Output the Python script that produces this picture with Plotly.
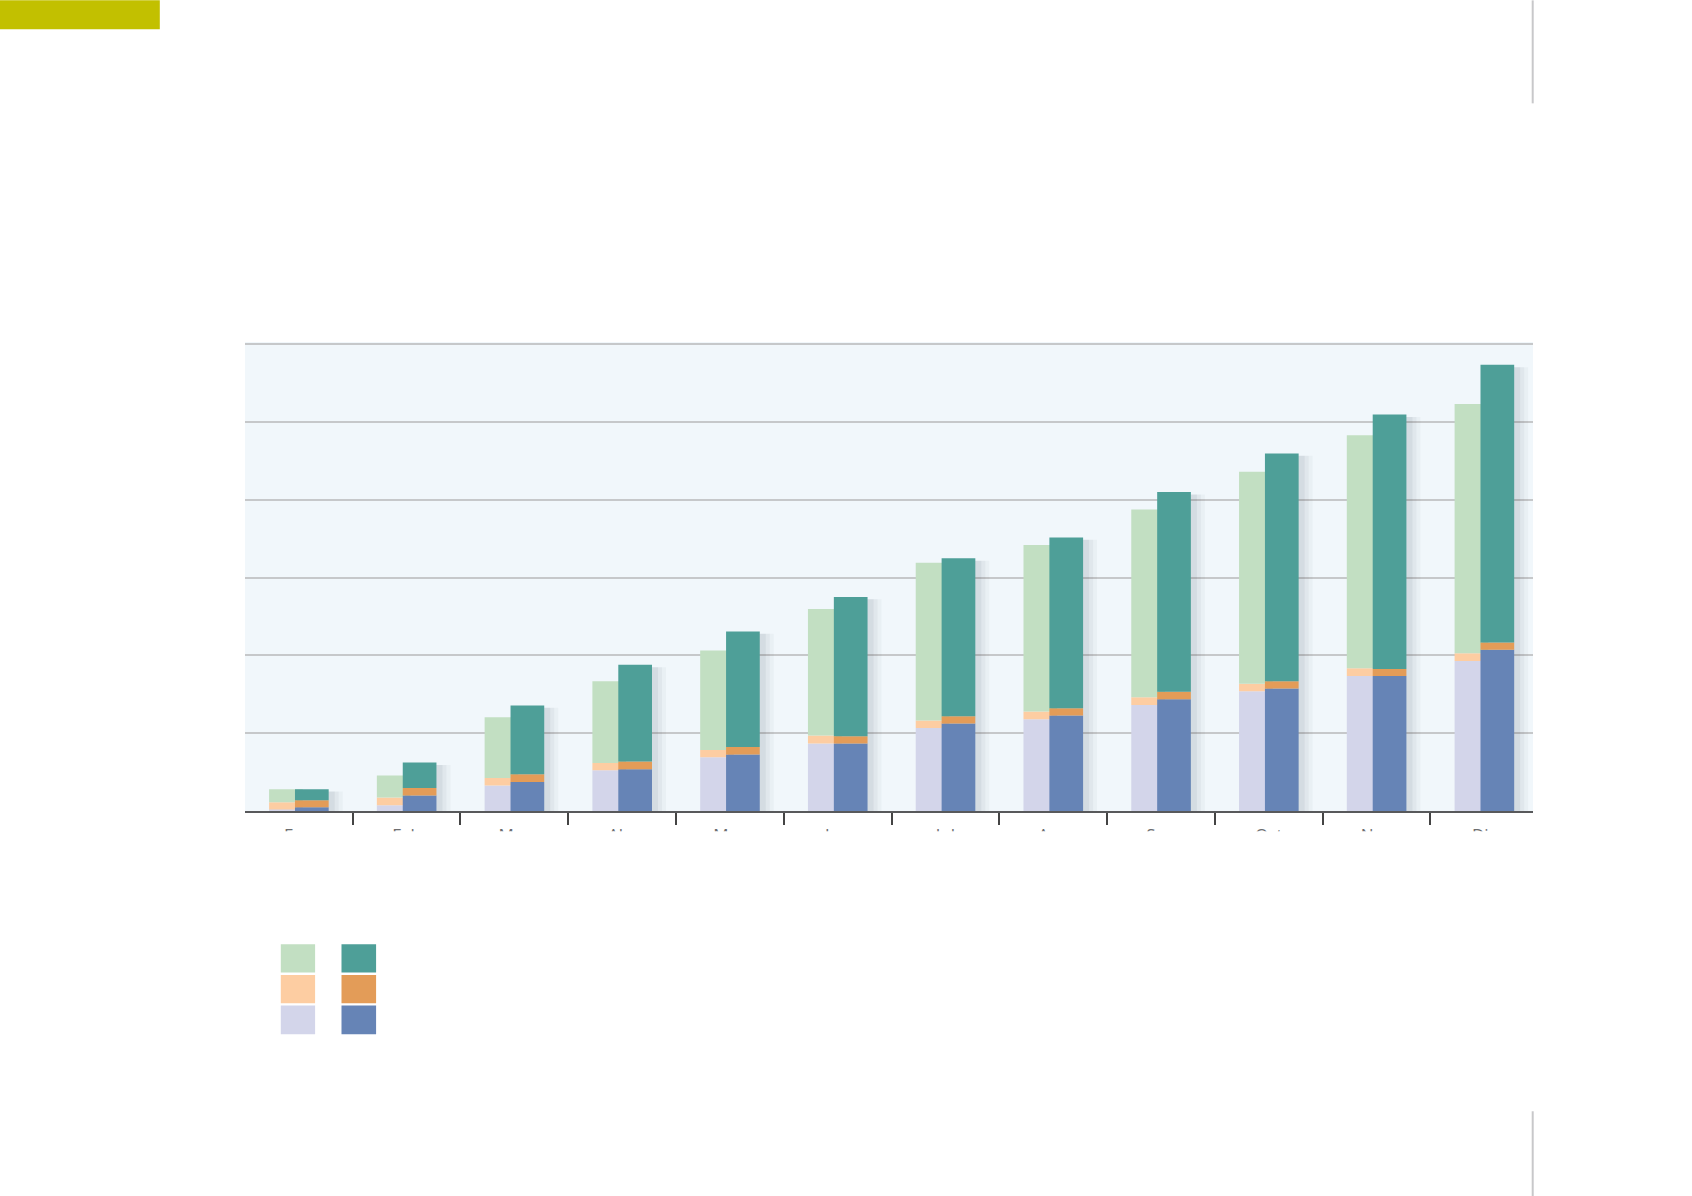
import numpy as np
import plotly.graph_objects as go

months = ["Ene", "Feb", "Mar", "Abr", "May", "Jun", "Jul", "Ago", "Sep", "Oct", "Nov", "Dic"]

# previous-year bar (light colours), stacked bottom -> top
prev_base = [0.18, 0.73, 3.27, 5.24, 6.91, 8.67, 10.68, 11.80, 13.64, 15.41, 17.37, 19.30]
prev_mid = [0.94, 0.99, 0.98, 0.94, 0.94, 1.03, 0.95, 0.99, 0.99, 0.94, 0.99, 0.99]
prev_top = [1.67, 2.83, 7.81, 10.51, 12.79, 16.28, 20.28, 21.40, 24.13, 27.28, 29.95, 32.05]

# current-year bar (dark colours), stacked bottom -> top
curr_base = [0.48, 1.98, 3.73, 5.37, 7.26, 8.67, 11.25, 12.28, 14.38, 15.75, 17.37, 20.72]
curr_mid = [0.90, 0.98, 0.99, 0.99, 0.98, 0.94, 0.94, 0.94, 0.94, 0.94, 0.90, 0.95]
curr_top = [1.42, 3.27, 8.84, 12.43, 14.85, 17.90, 20.30, 21.94, 25.68, 29.29, 32.70, 35.69]

light_colors = ["#d3d5ea", "#fdcda2", "#c2dfc2"]
dark_colors = ["#6684b6", "#e39c58", "#4e9f98"]

W, H = 1692, 1196
YMAX = 60.3
B = 810.7
unit_px = (810.7 - 344.0) / 60.0
L, R, T = 245.2, 1533.3, B - unit_px * YMAX
slot = 107.77
bw = 33.7 / slot
off_light = -29.7 / slot
off_dark = -3.8 / slot

fig = go.Figure()


def add_stack(parts, colors, offset):
    base = np.zeros(len(months))
    for vals, col in zip(parts, colors):
        v = np.array(vals)
        fig.add_trace(go.Bar(x=months, y=v, base=base.copy(), offset=offset, width=bw,
                             marker=dict(color=col, line=dict(width=0)),
                             showlegend=False, hoverinfo="skip"))
        base = base + v
    return base


add_stack([prev_base, prev_mid, prev_top], light_colors, off_light)

# soft shadow to the right of the dark bars
curr_total = np.array(curr_base) + np.array(curr_mid) + np.array(curr_top)
for extra, alpha in [(12, 0.035), (8, 0.045), (4, 0.06)]:
    fig.add_trace(go.Bar(x=months, y=curr_total - 0.3, base=0, offset=off_dark + 2 / slot,
                         width=bw + extra / slot,
                         marker=dict(color=f"rgba(40,50,60,{alpha})", line=dict(width=0)),
                         showlegend=False, hoverinfo="skip"))

add_stack([curr_base, curr_mid, curr_top], dark_colors, off_dark)


def px_x(p):
    return (p - L) / (R - L)


def px_y(p):
    return (B - p) / (B - T)


shapes = []
# mask below the top edge of tick labels (labels are clipped in the original)
shapes.append(dict(type="rect", xref="paper", yref="paper", x0=px_x(150), x1=px_x(1600),
                   y0=px_y(880), y1=px_y(831.0), fillcolor="white", line=dict(width=0), layer="above"))
# top-left colour block
shapes.append(dict(type="rect", xref="paper", yref="paper", x0=px_x(0), x1=px_x(160),
                   y0=px_y(29), y1=px_y(0), fillcolor="#c2c000", line=dict(width=0), layer="above"))
# vertical margin lines
for y0, y1 in [(0, 103), (1111, 1196)]:
    shapes.append(dict(type="line", xref="paper", yref="paper", x0=px_x(1533), x1=px_x(1533),
                       y0=px_y(y1), y1=px_y(y0), line=dict(color="#c8c8ca", width=2), layer="above"))
# legend swatches
cols_x = [(281, 315.3), (341.7, 376.3)]
rows_y = [(944, 972.3), (974.7, 1003), (1005.3, 1034)]
for ci, palette in enumerate([light_colors, dark_colors]):
    for ri, col in enumerate(reversed(palette)):
        x0, x1 = cols_x[ci]
        y0, y1 = rows_y[ri]
        shapes.append(dict(type="rect", xref="paper", yref="paper", x0=px_x(x0), x1=px_x(x1),
                           y0=px_y(y1), y1=px_y(y0), fillcolor=col, line=dict(width=0), layer="above"))

fig.update_layout(
    width=W, height=H,
    margin=dict(l=L, r=W - R, t=T, b=H - B, pad=0),
    paper_bgcolor="white",
    plot_bgcolor="#f1f7fb",
    barmode="overlay",
    font=dict(family="Open Sans, Liberation Sans, sans-serif", color="#6d6e71", size=17),
    shapes=shapes,
    xaxis=dict(type="category", range=[-0.499, 11.452], showgrid=False,
               showline=True, linecolor="#58595b", linewidth=2,
               ticks="outside", ticklen=12, tickwidth=1.5, tickcolor="#444444",
               tickson="boundaries", ticklabelstandoff=8,
               tickfont=dict(size=17, color="#6d6e71")),
    yaxis=dict(range=[0, YMAX], dtick=10, showgrid=True, gridcolor="#c6c8ca", gridwidth=1.5,
               zeroline=False, showticklabels=False, showline=False, fixedrange=True),
)

fig.write_html("out.html", config={"displayModeBar": False},
               post_script="document.body.style.margin='0px';")
